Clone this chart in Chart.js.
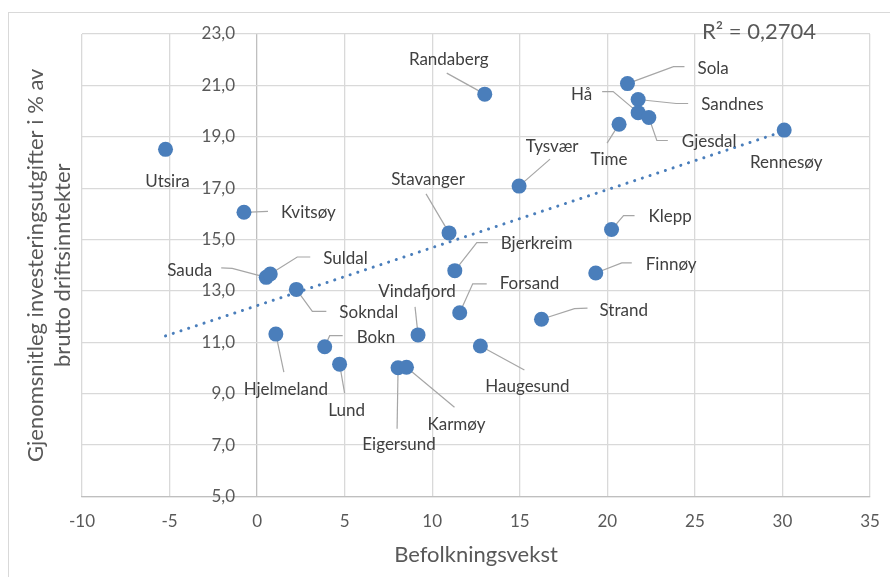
<!DOCTYPE html>
<html>
<head>
<meta charset="utf-8">
<script src="https://cdn.jsdelivr.net/npm/chart.js@4/dist/chart.umd.min.js"></script>
<style>
  html, body { margin: 0; padding: 0; background: #fff; }
  #wrap { position: relative; width: 890px; height: 577px; overflow: hidden; }
  #frame { position: absolute; left: 8px; top: 12px; width: 900px; height: 600px;
           border-left: 1px solid #d9d9d9; border-top: 1px solid #d9d9d9; }
  canvas { position: absolute; left: 0; top: 0; }
</style>
</head>
<body>
<div id="wrap">
  <div id="frame"></div>
  <canvas id="chart" width="890" height="577"></canvas>
</div>
<script>
// kommunar
const names = ['Utsira', 'Kvitsøy', 'Sauda', 'Suldal', 'Sokndal', 'Hjelmeland', 'Bokn', 'Lund',
  'Eigersund', 'Karmøy', 'Vindafjord', 'Forsand', 'Haugesund', 'Strand', 'Stavanger', 'Bjerkreim',
  'Randaberg', 'Tysvær', 'Finnøy', 'Klepp', 'Time', 'Sola', 'Sandnes', 'Hå', 'Gjesdal', 'Rennesøy'];

// befolkningsvekst (x)
const growth = [-5.23, -0.75, 0.52, 0.75, 2.24, 1.07, 3.86, 4.71,
  8.05, 8.53, 9.19, 11.57, 12.75, 16.24, 10.96, 11.29,
  13.0, 14.96, 19.34, 20.24, 20.67, 21.15, 21.76, 21.76, 22.37, 30.1];

// investeringsutgifter i % av brutto driftsinntekter (y)
const invest = [18.51, 16.06, 13.53, 13.66, 13.06, 11.32, 10.83, 10.15,
  10.01, 10.03, 11.29, 12.15, 10.86, 11.90, 15.26, 13.79,
  20.66, 17.08, 13.70, 15.39, 19.49, 21.07, 20.45, 19.94, 19.75, 19.26];

// trendline end points
const trendX = [-5.23, 30.1];
const trendY = [11.25, 19.22];

const xTicks = [-10, 35, 5];   // min, max, step
const yTicks = [5, 23, 2];
const rSquared = 'R² = 0,2704';
const xTitle = 'Befolkningsvekst';
const yTitle = ['Gjenomsnitleg investeringsutgifter i % av', 'brutto driftsinntekter'];

// label placement relative to the point (pixels): text anchor, alignment, leader line vertices
const labelLayout = {
  'Utsira':     { at: [2, 32], align: 'center' },
  'Kvitsøy':    { at: [37, 0], align: 'left', lead: [[24, -1]] },
  'Sauda':      { at: [-54, -7], align: 'right', lead: [[-34, -9], [-45, -9.5]] },
  'Suldal':     { at: [53, -15], align: 'left', lead: [[27, -17], [40, -17]] },
  'Sokndal':    { at: [43, 23], align: 'left', lead: [[16, 22], [30, 22]] },
  'Hjelmeland': { at: [10, 55], align: 'center', lead: [[8, 38]] },
  'Bokn':       { at: [32, -9], align: 'left', lead: [[5, -11], [18, -11]] },
  'Lund':       { at: [7, 46], align: 'center', lead: [[5, 29]] },
  'Eigersund':  { at: [1, 77], align: 'center', lead: [[-1, 61]] },
  'Karmøy':     { at: [50, 57], align: 'center', lead: [[48, 40]] },
  'Vindafjord': { at: [-1, -43], align: 'center', lead: [[-3, -28]] },
  'Forsand':    { at: [40, -29], align: 'left', lead: [[13, -29], [27, -29]] },
  'Haugesund':  { at: [47, 41], align: 'center', lead: [[44, 24]] },
  'Strand':     { at: [58, -9], align: 'left', lead: [[33, -10.5], [46, -11]] },
  'Stavanger':  { at: [-21, -53], align: 'center', lead: [[-23, -39]] },
  'Bjerkreim':  { at: [46, -27], align: 'left', lead: [[22, -28], [33, -28]] },
  'Randaberg':  { at: [-36, -35], align: 'center', lead: [[-38, -21]] },
  'Tysvær':     { at: [33, -40], align: 'center', lead: [[31, -27]] },
  'Finnøy':     { at: [50, -8], align: 'left', lead: [[26, -10], [36, -10]] },
  'Klepp':      { at: [37, -13], align: 'left', lead: [[12, -14], [23, -14]] },
  'Time':       { at: [-10, 35], align: 'center', lead: [[-12, 19]] },
  'Sola':       { at: [70, -15], align: 'left', lead: [[46, -17], [57, -17]] },
  'Sandnes':    { at: [63, 5], align: 'left', lead: [[38, 4], [50, 4]] },
  'Hå':         { at: [-46, -18], align: 'right', lead: [[-25, -21], [-36, -21]] },
  'Gjesdal':    { at: [33, 24], align: 'left', lead: [[8, 23], [19, 23]] },
  'Rennesøy':   { at: [2, 32], align: 'center' }
};

const FONT = 'Lato, "Open Sans", sans-serif';
const fmtComma = (v) => v.toFixed(1).replace('.', ',');

const labelPlugin = {
  id: 'pointLabels',
  beforeDatasetsDraw(chart) {
    const ctx = chart.ctx;
    const meta = chart.getDatasetMeta(0);
    ctx.save();
    ctx.strokeStyle = '#a6a6a6';
    ctx.lineWidth = 1.2;
    meta.data.forEach((pt, i) => {
      const lay = labelLayout[names[i]];
      if (!lay || !lay.lead) return;
      ctx.beginPath();
      ctx.moveTo(pt.x, pt.y);
      lay.lead.forEach(([dx, dy]) => ctx.lineTo(pt.x + dx, pt.y + dy));
      ctx.stroke();
    });
    ctx.restore();
  },
  afterDatasetsDraw(chart) {
    const ctx = chart.ctx;
    const meta = chart.getDatasetMeta(0);
    ctx.save();
    ctx.fillStyle = '#404040';
    ctx.font = '17px ' + FONT;
    ctx.textBaseline = 'middle';
    meta.data.forEach((pt, i) => {
      const lay = labelLayout[names[i]];
      ctx.textAlign = lay.align;
      ctx.fillText(names[i], pt.x + lay.at[0], pt.y + lay.at[1]);
    });
    ctx.restore();
  },
  afterDraw(chart) {
    const ctx = chart.ctx;
    const area = chart.chartArea;
    ctx.save();
    ctx.fillStyle = '#595959';
    ctx.textAlign = 'center';
    ctx.textBaseline = 'middle';
    ctx.font = '22px ' + FONT;
    ctx.fillText(xTitle, (area.left + area.right) / 2, 555);
    ctx.fillText(rSquared, 759, 32);
    ctx.translate(49, (area.top + area.bottom) / 2);
    ctx.rotate(-Math.PI / 2);
    ctx.fillText(yTitle[0], 0, -13);
    ctx.fillText(yTitle[1], 0, 14);
    ctx.restore();
  }
};

const points = growth.map((x, i) => ({ x: x, y: invest[i] }));
const trend = trendX.map((x, i) => ({ x: x, y: trendY[i] }));

new Chart(document.getElementById('chart'), {
  type: 'scatter',
  data: {
    datasets: [
      {
        label: 'Kommunar',
        data: points,
        backgroundColor: '#4a7ebb',
        borderWidth: 0,
        pointRadius: 7.5,
        pointHoverRadius: 7.5
      },
      {
        label: 'Trend',
        data: trend,
        showLine: true,
        pointRadius: 0,
        borderColor: '#4a7ebb',
        borderWidth: 3,
        borderDash: [0.1, 8],
        borderCapStyle: 'round',
        fill: false
      }
    ]
  },
  options: {
    responsive: false,
    animation: false,
    events: [],
    layout: { padding: { left: 82, top: 34, right: 20, bottom: 0 } },
    plugins: {
      legend: { display: false },
      tooltip: { enabled: false }
    },
    scales: {
      x: {
        type: 'linear',
        position: 'bottom',
        min: xTicks[0],
        max: xTicks[1],
        ticks: {
          stepSize: xTicks[2],
          padding: 15,
          color: '#595959',
          font: { family: FONT, size: 17 }
        },
        grid: {
          drawTicks: false,
          lineWidth: 1.3,
          color: (c) => (c.tick && c.tick.value === 0 ? '#bfbfbf' : '#d9d9d9')
        },
        border: { display: true, color: '#bfbfbf', width: 1.3 },
        afterFit: (scale) => {
          scale.height = 80.5;
          scale.paddingLeft = 0;
          scale.paddingRight = 0;
        }
      },
      y: {
        type: 'linear',
        position: { x: -1.26 },
        min: yTicks[0],
        max: yTicks[1],
        ticks: {
          stepSize: yTicks[2],
          padding: 0,
          color: '#595959',
          font: { family: FONT, size: 17 },
          callback: (v) => fmtComma(v)
        },
        grid: { drawTicks: false, lineWidth: 1.3, color: '#d9d9d9' },
        border: { display: false },
        afterFit: (scale) => {
          scale.paddingTop = 0;
          scale.paddingBottom = 0;
        }
      }
    }
  },
  plugins: [labelPlugin]
});
</script>
</body>
</html>
